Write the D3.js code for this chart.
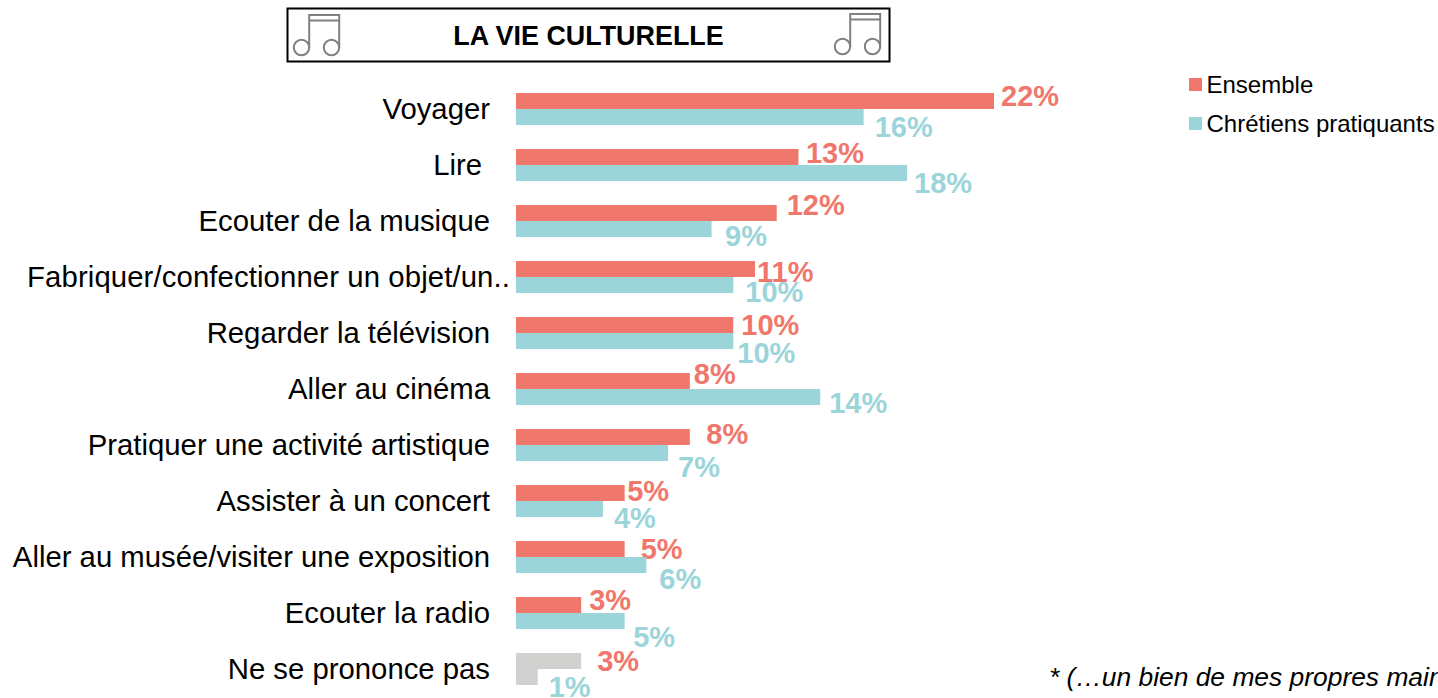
<!DOCTYPE html>
<html><head><meta charset="utf-8">
<script src="https://cdn.jsdelivr.net/npm/d3@7"></script>
<style>html,body{margin:0;padding:0;background:#fff;overflow:hidden}svg{display:block}text{font-family:"Liberation Sans",Arial,sans-serif}</style>
</head><body><svg id="c" width="1438" height="698"></svg>
<script>
const categories = ["Voyager","Lire","Ecouter de la musique","Fabriquer/confectionner un objet/un..","Regarder la télévision","Aller au cinéma","Pratiquer une activité artistique","Assister à un concert","Aller au musée/visiter une exposition","Ecouter la radio","Ne se prononce pas"];
const ensemble = [22,13,12,11,10,8,8,5,5,3,3];
const pratiquants = [16,18,9,10,10,14,7,4,6,5,1];
const seriesNames = ["Ensemble","Chrétiens pratiquants"];
const titleText = "LA VIE CULTURELLE";
const footnote = "* (…un bien de mes propres mains)";

// Layout (hand-placed labels of the original)
const colors = ["#F0776B","#9BD5DA"], greyBar = "#D1D2D0";
const dxE = [7,7.5,10,2,8,4,16.5,2.5,16,8,16], dyE = [-6,-5,-9,2,-1,-8,-4,-3,-1,-6,-1];
const dxP = [11,7,13.5,12,4,9,10,11,13,8.5,11], dyP = [10,10,7,7,12,6,14,9,14,16,10];
const catDx = [0,-8,0,20,0,0,0,0,0,0,0];
const catSpacing = [0,0,0,0.11,0,0,0,0,0,0,0];

const svg = d3.select("#c");
const x = d3.scaleLinear().domain([0,22]).range([516,994]);
const y = d3.scaleBand().domain(categories).range([81,697]).paddingInner(0.4286).paddingOuter(0.2143);
const bh = y.bandwidth()/2;

categories.forEach((c,i)=>{
  const grey = i===categories.length-1;
  [ensemble,pratiquants].forEach((vals,s)=>{
    svg.append("rect").attr("x",x(0)).attr("y",y(c)+s*bh).attr("width",x(vals[i])-x(0)).attr("height",bh)
      .attr("fill",grey?greyBar:colors[s]);
    const dx = s?dxP[i]:dxE[i], dy = s?dyP[i]:dyE[i];
    svg.append("text").attr("x",x(vals[i])+dx).attr("y",y(c)+bh*(s+0.5)+dy+10.5)
      .attr("font-size",29).attr("font-weight","bold").attr("fill",colors[s]).text(vals[i]+"%");
  });
  svg.append("text").attr("x",490+catDx[i]).attr("y",y(c)+bh+9.5).attr("text-anchor","end")
    .attr("font-size",29.3).attr("letter-spacing",catSpacing[i]).attr("fill","#000").text(c);
});

// Title box
svg.append("rect").attr("x",287.5).attr("y",8.5).attr("width",602).attr("height",53).attr("fill","#fff").attr("stroke","#000").attr("stroke-width",2);
svg.append("text").attr("x",588.5).attr("y",45).attr("text-anchor","middle").attr("font-size",26.9).attr("font-weight","bold").attr("fill","#000").text(titleText);
function note(cx1,cx2,cy,top){
  const g = svg.append("g").attr("fill","none").attr("stroke","#808080").attr("stroke-width",2);
  [cx1,cx2].forEach(cx=>{
    g.append("circle").attr("cx",cx).attr("cy",cy).attr("r",7.7);
    g.append("line").attr("x1",cx+7.7).attr("x2",cx+7.7).attr("y1",top-1).attr("y2",cy);
  });
  [top,top+5.5].forEach(t=>g.append("line").attr("x1",cx1+7.7).attr("x2",cx2+7.7).attr("y1",t).attr("y2",t));
}
note(301.5,331.5,47.5,15);
note(842.5,872.5,46.5,14);

// Legend
seriesNames.forEach((n,i)=>{
  const ly = 78+i*39;
  svg.append("rect").attr("x",1189).attr("y",ly).attr("width",13).attr("height",13).attr("fill",colors[i]);
  svg.append("text").attr("x",1206.5).attr("y",ly+15).attr("font-size",24).attr("fill","#000").text(n);
});

// Footnote
svg.append("text").attr("x",1049).attr("y",686).attr("font-size",26.4).attr("font-style","italic").attr("fill","#000").text(footnote);
</script></body></html>
